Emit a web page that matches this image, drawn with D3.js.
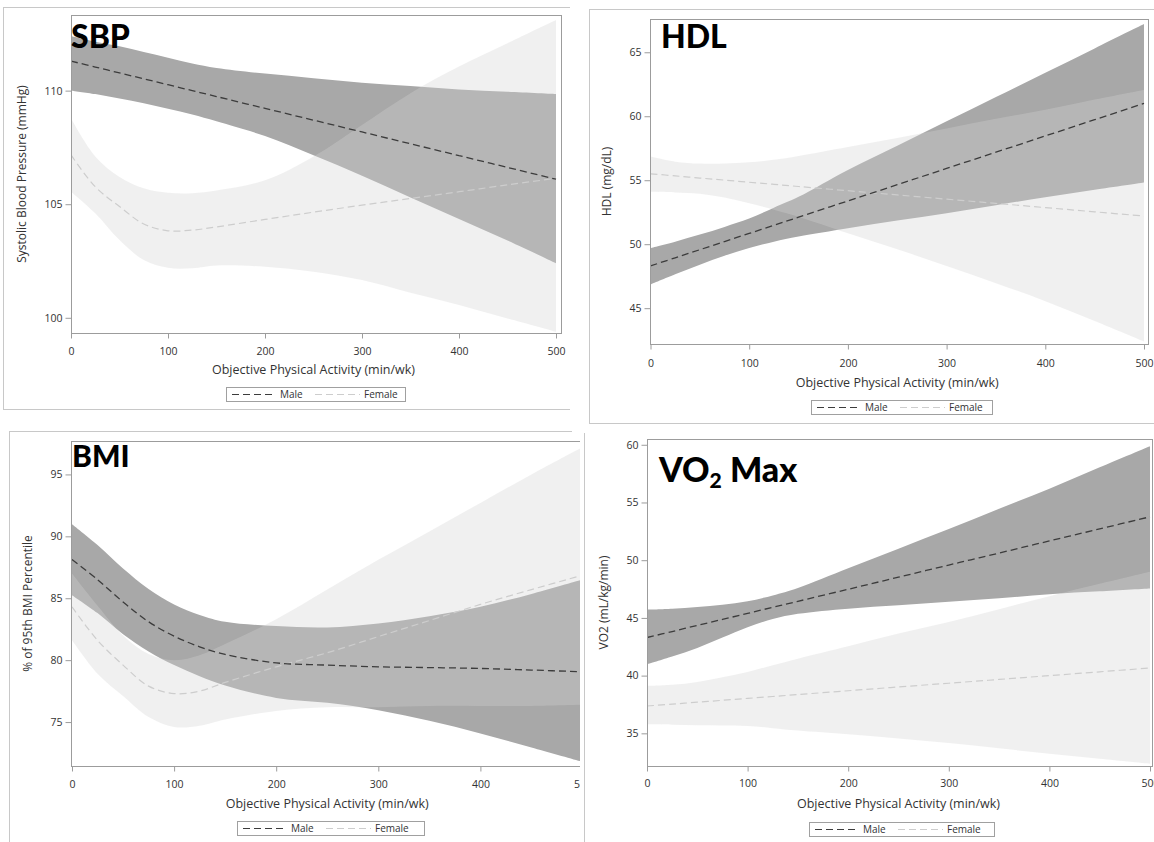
<!DOCTYPE html>
<html>
<head>
<meta charset="utf-8">
<script src="https://cdn.jsdelivr.net/npm/d3@7"></script>
<style>
body{margin:0;background:#fff;}
svg text{font-family:"Open Sans",sans-serif;fill:#333;}
.ttl{font-family:Lato,"Open Sans",sans-serif;font-weight:900;fill:#000;}
</style>
</head>
<body>
<div id="chart"></div>
<script>
(function(){
	var width=1154,
	height=842;

	var xGrid=[0,25,50,75,100,125,150,200,250,300,350,400,450,500];
	var xTicks=[0,100,200,300,400,500];

	// SBP
	var sbpMale  =[111.3,111.04,110.78,110.52,110.26,110.0,109.74,109.22,108.7,108.18,107.66,107.14,106.62,106.1];
	var sbpMaleHi=[112.4,112.15,111.95,111.7,111.45,111.2,111.0,110.75,110.55,110.35,110.2,110.05,109.95,109.85];
	var sbpMaleLo=[110.0,109.85,109.65,109.45,109.2,108.95,108.65,108.0,107.15,106.25,105.3,104.35,103.4,102.4];
	var sbpFem   =[107.17,105.77,104.9,104.13,103.83,103.86,104.0,104.33,104.65,104.96,105.25,105.55,105.85,106.14];
	var sbpFemHi =[108.78,107.1,106.2,105.7,105.5,105.48,105.6,106.05,107.1,108.49,109.89,111.06,112.09,113.11];
	var sbpFemLo =[105.55,104.6,103.42,102.54,102.2,102.18,102.3,102.25,102.03,101.66,101.1,100.56,99.97,99.38];
	var sbpTicks=[100,105,110];

	// HDL
	var hdlMale  =[48.3,48.94,49.57,50.21,50.84,51.48,52.11,53.38,54.65,55.92,57.19,58.46,59.73,61.0];
	var hdlMaleHi=[49.7,50.2,50.75,51.35,52.0,52.85,53.7,55.8,57.7,59.6,61.5,63.4,65.3,67.2];
	var hdlMaleLo=[46.85,47.65,48.4,49.1,49.7,50.2,50.6,51.25,51.85,52.42,53.05,53.67,54.25,54.82];
	var hdlFem   =[55.5,55.34,55.17,55.01,54.84,54.68,54.51,54.18,53.85,53.52,53.19,52.86,52.53,52.2];
	var hdlFemHi =[56.85,56.45,56.3,56.3,56.4,56.6,56.9,57.6,58.3,59.05,59.8,60.5,61.3,62.05];
	var hdlFemLo =[54.1,54.05,53.95,53.65,53.2,52.7,52.15,50.85,49.6,48.3,46.95,45.55,44.0,42.4];
	var hdlTicks=[45,50,55,60,65];

	// BMI
	var bmiMale  =[88.13,86.5,84.7,83.1,81.94,81.08,80.46,79.78,79.6,79.46,79.4,79.33,79.2,79.06];
	var bmiMaleHi=[90.98,89.3,87.4,85.75,84.5,83.65,83.1,82.75,82.64,82.96,83.55,84.31,85.35,86.51];
	var bmiMaleLo=[85.25,83.8,82.1,80.7,79.6,78.7,77.95,76.95,76.55,75.96,75.1,74.08,72.95,71.79];
	var bmiFem   =[84.3,81.6,79.6,77.9,77.3,77.5,78.2,79.46,80.6,81.9,83.2,84.5,85.7,86.86];
	var bmiFemHi =[87.0,84.4,82.0,80.5,80.0,80.4,81.3,83.3,85.7,88.1,90.4,92.7,95.0,97.2];
	var bmiFemLo =[81.6,78.9,77.1,75.4,74.6,74.7,75.2,75.9,76.2,76.2,76.3,76.3,76.3,76.4];
	var bmiTicks=[75,80,85,90,95];

	// VO2 max
	var vo2Male  =[43.3,43.82,44.35,44.87,45.39,45.92,46.44,47.48,48.53,49.58,50.62,51.67,52.71,53.76];
	var vo2MaleHi=[45.72,45.8,45.95,46.15,46.45,46.95,47.6,49.3,51.0,52.7,54.45,56.2,58.05,59.88];
	var vo2MaleLo=[40.98,41.65,42.4,43.3,44.2,44.9,45.35,45.8,46.1,46.4,46.7,47.05,47.3,47.55];
	var vo2Fem   =[37.37,37.53,37.7,37.86,38.03,38.19,38.36,38.69,39.02,39.34,39.67,40.0,40.33,40.66];
	var vo2FemHi =[39.1,39.2,39.45,39.85,40.32,40.9,41.47,42.54,43.64,44.65,45.75,46.88,47.95,48.99];
	var vo2FemLo =[35.78,35.75,35.7,35.68,35.64,35.45,35.25,34.92,34.55,34.16,33.7,33.24,32.8,32.37];
	var vo2Ticks=[35,40,45,50,55,60];

	var seriesNames=["Male","Female"];

	var panels=[
		{id:"sbp",title:["SBP"],ylab:"Systolic Blood Pressure (mmHg)",
		 m:sbpMale,mh:sbpMaleHi,ml:sbpMaleLo,f:sbpFem,fh:sbpFemHi,fl:sbpFemLo,ticks:sbpTicks,
		 ydom:[99.33,113.33],box:[71,15,561,333],xr:[71,556],
		 frame:{l:3,t:7,b:409,r:570},tx:71,ty:48,tsize:32,ylx:22,tickY:354,xlabY:374,leg:[226,387,179]},
		{id:"hdl",title:["HDL"],ylab:"HDL (mg/dL)",
		 m:hdlMale,mh:hdlMaleHi,ml:hdlMaleLo,f:hdlFem,fh:hdlFemHi,fl:hdlFemLo,ticks:hdlTicks,
		 ydom:[42.2,67.6],box:[650,19,1148,344],xr:[650.5,1144],
		 frame:{l:589,t:9,b:423,r:1160},tx:661,ty:48,tsize:32,ylx:607,tickY:366,xlabY:387,leg:[811,400,181]},
		{id:"bmi",title:["BMI"],ylab:"% of 95th BMI Percentile",
		 m:bmiMale,mh:bmiMaleHi,ml:bmiMaleLo,f:bmiFem,fh:bmiFemHi,fl:bmiFemLo,ticks:bmiTicks,
		 ydom:[71.45,97.7],box:[71,441,600,766],xr:[72,582.5],clip:580,
		 frame:{l:9,t:431,b:860,r:572},tx:72,ty:467,tsize:30,ylx:28,tickY:787,xlabY:808,leg:[237,821,187]},
		{id:"vo2",title:["VO","2"," Max"],ylab:"VO2 (mL/kg/min)",
		 m:vo2Male,mh:vo2MaleHi,ml:vo2MaleLo,f:vo2Fem,fh:vo2FemHi,fl:vo2FemLo,ticks:vo2Ticks,
		 ydom:[32.17,60.5],box:[647,439,1152,766],xr:[647,1150],
		 frame:{l:584,t:433,b:860,r:null},tx:659,ty:482,tsize:34,ylx:604,tickY:786,xlabY:808,leg:[809,822,185]}
	];

	var svg=d3.select("#chart")
		.append("svg")
		.attr("width",width)
		.attr("height",height);

	var defs=svg.append("defs");

	var maleFill="#a8a8a8",
		femFill="rgb(212,212,212)",
		femOpacity=0.34,
		maleLine="#3c3c3c",
		femLine="#cdcdcd",
		axisCol="#9c9c9c";

	var smooth=d3.curveCatmullRom.alpha(0.5);

	panels.forEach(function(p){
		var g=svg.append("g").attr("class","panel "+p.id);

		if(p.clip){
			defs.append("clipPath").attr("id","pc_"+p.id)
				.append("rect").attr("x",0).attr("y",p.frame.t-5).attr("width",p.clip).attr("height",height);
			g.attr("clip-path","url(#pc_"+p.id+")");
		}

		// outer frame of the panel
		var fr=p.frame;
		if(p.id!=="vo2"){
			g.append("line").attr("x1",fr.l).attr("x2",fr.r).attr("y1",fr.t+0.5).attr("y2",fr.t+0.5)
				.style("stroke","#c8c8c8");
		}
		g.append("line").attr("x1",fr.l+0.5).attr("x2",fr.l+0.5).attr("y1",fr.t).attr("y2",fr.b)
			.style("stroke","#c8c8c8");
		if(fr.b<height){
			g.append("line").attr("x1",fr.l).attr("x2",fr.r).attr("y1",fr.b+0.5).attr("y2",fr.b+0.5)
				.style("stroke","#c8c8c8");
		}

		var x=d3.scaleLinear().domain([0,500]).range(p.xr);
		var y=d3.scaleLinear().domain(p.ydom).range([p.box[3],p.box[1]]);

		defs.append("clipPath").attr("id","pl_"+p.id)
			.append("rect").attr("x",p.box[0]).attr("y",p.box[1])
			.attr("width",p.box[2]-p.box[0]).attr("height",p.box[3]-p.box[1]);

		var plot=g.append("g").attr("clip-path","url(#pl_"+p.id+")");

		var band=function(hi,lo){
			return d3.area()
				.x(function(d,i){return x(xGrid[i]);})
				.y0(function(d,i){return y(lo[i]);})
				.y1(function(d,i){return y(hi[i]);})
				.curve(smooth)(xGrid);
		};
		var fit=function(v){
			return d3.line()
				.x(function(d,i){return x(xGrid[i]);})
				.y(function(d){return y(d);})
				.curve(smooth)(v);
		};

		plot.append("path").attr("d",band(p.mh,p.ml)).attr("fill",maleFill);
		plot.append("path").attr("d",band(p.fh,p.fl)).attr("fill",femFill).attr("fill-opacity",femOpacity);
		plot.append("path").attr("d",fit(p.f)).attr("fill","none")
			.style("stroke",femLine).style("stroke-width",1.2).style("stroke-dasharray","7,4");
		plot.append("path").attr("d",fit(p.m)).attr("fill","none")
			.style("stroke",maleLine).style("stroke-width",1.3).style("stroke-dasharray","7,4");

		// plot box
		g.append("rect").attr("x",p.box[0]+0.5).attr("y",p.box[1]+0.5)
			.attr("width",p.box[2]-p.box[0]).attr("height",p.box[3]-p.box[1])
			.attr("fill","none").style("stroke",axisCol);

		// axes
		var xa=g.append("g").attr("transform","translate(0,"+(p.box[3]+0.5)+")")
			.call(d3.axisBottom(x).tickValues(xTicks).tickSize(5).tickPadding(7).tickFormat(d3.format("d")));
		var ya=g.append("g").attr("transform","translate("+(p.box[0]+0.5)+",0)")
			.call(d3.axisLeft(y).tickValues(p.ticks).tickSize(6).tickPadding(3).tickFormat(d3.format("d")));
		[xa,ya].forEach(function(a){
			a.select(".domain").remove();
			a.selectAll(".tick line").style("stroke",axisCol);
			a.selectAll(".tick text").style("font-family","'Open Sans',sans-serif")
				.style("font-size","10.5px").style("fill","#333");
		});
		xa.selectAll(".tick text").attr("dy",null).attr("y",p.tickY-p.box[3]);

		// labels
		g.append("text").attr("x",(p.xr[0]+p.xr[1])/2).attr("y",p.xlabY)
			.attr("text-anchor","middle").style("font-size","12.5px")
			.text("Objective Physical Activity (min/wk)");
		g.append("text")
			.attr("transform","translate("+p.ylx+","+((p.box[1]+p.box[3])/2)+") rotate(-90)")
			.attr("dy","0.35em").attr("text-anchor","middle").style("font-size","12px")
			.text(p.ylab);

		// big panel title
		var t=g.append("text").attr("class","ttl").attr("x",p.tx).attr("y",p.ty).style("font-size",p.tsize+"px");
		t.append("tspan").text(p.title[0]);
		if(p.title.length>1){
			t.append("tspan").attr("dy",6).style("font-size",(p.tsize*0.62)+"px").text(p.title[1]);
			t.append("tspan").attr("dy",-6).text(p.title[2]);
		}

		// legend
		var lg=g.append("g").attr("transform","translate("+p.leg[0]+","+p.leg[1]+")");
		lg.append("rect").attr("x",0.5).attr("y",0.5).attr("width",p.leg[2]).attr("height",14)
			.attr("fill","#fff").style("stroke","#a0a0a0");
		var lx=[[6,50,54],[89,134,138]];
		seriesNames.forEach(function(s,i){
			lg.append("line").attr("x1",lx[i][0]).attr("x2",lx[i][1]).attr("y1",7.5).attr("y2",7.5)
				.style("stroke",i===0?maleLine:femLine).style("stroke-width",1.2)
				.style("stroke-dasharray","7,4");
			lg.append("text").attr("x",lx[i][2]).attr("y",11.3).style("font-size","10px").text(s);
		});
	});
})();
</script>
</body>
</html>
